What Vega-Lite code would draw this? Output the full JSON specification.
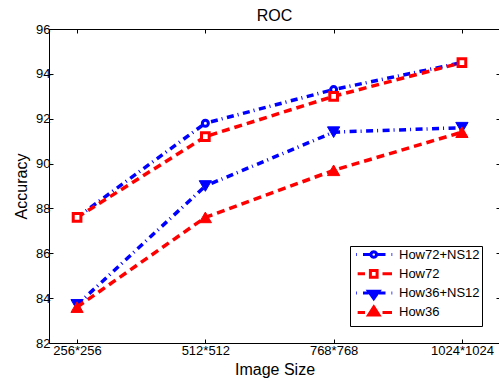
{
  "$schema": "https://vega.github.io/schema/vega-lite/v6.json",
  "autosize": "none",
  "padding": {"left": 49, "top": 29, "right": 0, "bottom": 38},
  "width": 451,
  "height": 314,
  "background": "white",
  "title": {"text": "ROC", "fontSize": 16, "font": "Liberation Sans", "fontWeight": "normal", "color": "black", "offset": 4, "dy": 5},
  "config": {
    "view": {"stroke": "black", "strokeWidth": 1},
    "axis": {"domainColor": "black", "tickColor": "black", "labelColor": "black", "titleColor": "black", "labelFont": "Liberation Sans", "titleFont": "Liberation Sans", "labelFontSize": 13, "titleFontSize": 16, "titleFontWeight": "normal", "grid": false, "tickSize": -4, "domainWidth": 1, "tickWidth": 1},
    "legend": {"orient": "none", "legendX": 301, "legendY": 217, "title": null, "padding": 2, "strokeColor": "black", "fillColor": "white", "symbolSize": 100, "symbolStrokeWidth": 3, "labelFontSize": 13, "labelFont": "Liberation Sans", "labelColor": "black", "labelOffset": 34, "rowPadding": -3.7, "symbolOpacity": 1}
  },
  "data": {"values": [
    {"series": "How72+NS12", "size": 256, "acc": 87.6},
    {"series": "How72+NS12", "size": 512, "acc": 91.8},
    {"series": "How72+NS12", "size": 768, "acc": 93.3},
    {"series": "How72+NS12", "size": 1024, "acc": 94.5},
    {"series": "How72", "size": 256, "acc": 87.6},
    {"series": "How72", "size": 512, "acc": 91.2},
    {"series": "How72", "size": 768, "acc": 93.0},
    {"series": "How72", "size": 1024, "acc": 94.5},
    {"series": "How36+NS12", "size": 256, "acc": 83.7},
    {"series": "How36+NS12", "size": 512, "acc": 89.0},
    {"series": "How36+NS12", "size": 768, "acc": 91.4},
    {"series": "How36+NS12", "size": 1024, "acc": 91.6},
    {"series": "How36", "size": 256, "acc": 83.6},
    {"series": "How36", "size": 512, "acc": 87.6},
    {"series": "How36", "size": 768, "acc": 89.7},
    {"series": "How36", "size": 1024, "acc": 91.4}
  ]},
  "resolve": {"axis": {"x": "independent", "y": "independent"}},
  "layer": [
    {
      "transform": [{"filter": {"field": "series", "equal": "How72+NS12"}}],
      "mark": {"type": "line", "strokeWidth": 3.5, "stroke": "#0000ff", "strokeDash": [7, 4, 1, 4.5], "opacity": 1},
      "encoding": {
        "x": {"field": "size", "type": "quantitative", "scale": {"domain": [200, 1100], "nice": false, "zero": false},
              "axis": {"orient": "bottom", "values": [256, 512, 768, 1024], "labelExpr": "datum.value + '*' + datum.value", "title": "Image Size", "labelPadding": 5, "titlePadding": 4}},
        "y": {"field": "acc", "type": "quantitative", "scale": {"domain": [82, 96], "nice": false, "zero": false},
              "axis": {"orient": "left", "values": [82, 84, 86, 88, 90, 92, 94, 96], "title": "Accuracy", "labelPadding": 3, "titlePadding": 6}}
      }
    },
    {
      "transform": [{"filter": {"field": "series", "equal": "How72+NS12"}}],
      "mark": {"type": "point", "shape": "circle", "size": 36, "fill": "white", "stroke": "#0000ff", "strokeWidth": 3, "opacity": 1},
      "encoding": {
        "x": {"field": "size", "type": "quantitative", "axis": {"orient": "top", "values": [256, 512, 768, 1024], "labels": false, "title": null}},
        "y": {"field": "acc", "type": "quantitative", "axis": {"orient": "right", "values": [82, 84, 86, 88, 90, 92, 94, 96], "labels": false, "title": null}}
      }
    },
    {
      "transform": [{"filter": {"field": "series", "equal": "How72"}}],
      "mark": {"type": "line", "strokeWidth": 3.5, "stroke": "#ff0000", "strokeDash": [8, 5], "opacity": 1},
      "encoding": {
        "x": {"field": "size", "type": "quantitative", "axis": null},
        "y": {"field": "acc", "type": "quantitative", "axis": null}
      }
    },
    {
      "transform": [{"filter": {"field": "series", "equal": "How72"}}],
      "mark": {"type": "point", "shape": "square", "size": 59, "fill": "white", "stroke": "#ff0000", "strokeWidth": 3, "opacity": 1},
      "encoding": {
        "x": {"field": "size", "type": "quantitative", "axis": null},
        "y": {"field": "acc", "type": "quantitative", "axis": null}
      }
    },
    {
      "transform": [{"filter": {"field": "series", "equal": "How36+NS12"}}],
      "mark": {"type": "line", "strokeWidth": 3.5, "stroke": "#0000ff", "strokeDash": [7, 4, 1, 4.5], "opacity": 1},
      "encoding": {
        "x": {"field": "size", "type": "quantitative", "axis": null},
        "y": {"field": "acc", "type": "quantitative", "axis": null}
      }
    },
    {
      "transform": [{"filter": {"field": "series", "equal": "How36+NS12"}}],
      "mark": {"type": "point", "shape": "triangle-down", "size": 150, "fill": "#0000ff", "stroke": "#0000ff", "strokeWidth": 1, "opacity": 1},
      "encoding": {
        "x": {"field": "size", "type": "quantitative", "axis": null},
        "y": {"field": "acc", "type": "quantitative", "axis": null}
      }
    },
    {
      "transform": [{"filter": {"field": "series", "equal": "How36"}}],
      "mark": {"type": "line", "strokeWidth": 3.5, "stroke": "#ff0000", "strokeDash": [8, 5], "opacity": 1},
      "encoding": {
        "x": {"field": "size", "type": "quantitative", "axis": null},
        "y": {"field": "acc", "type": "quantitative", "axis": null}
      }
    },
    {
      "transform": [{"filter": {"field": "series", "equal": "How36"}}],
      "mark": {"type": "point", "shape": "triangle-up", "size": 150, "fill": "#ff0000", "stroke": "#ff0000", "strokeWidth": 1, "opacity": 1},
      "encoding": {
        "x": {"field": "size", "type": "quantitative", "axis": null},
        "y": {"field": "acc", "type": "quantitative", "axis": null}
      }
    },
    {
      "transform": [{"filter": {"field": "series", "equal": "none"}}],
      "mark": {"type": "point", "strokeWidth": 3, "opacity": 1, "size": 100},
      "encoding": {
        "shape": {"field": "series", "type": "nominal",
                  "scale": {"domain": ["How72+NS12", "How72", "How36+NS12", "How36"],
                            "range": [
                              "M3.05,-1.1M3.05,1.1M-0.5,0H-0.35M0.9,0H2.49M3.61,0H5.4M6.6,0H6.75M3.61,0L3.535,0.28L3.33,0.485L3.05,0.56L2.77,0.485L2.565,0.28L2.49,0L2.565,-0.28L2.77,-0.485L3.05,-0.56L3.33,-0.485L3.535,-0.28Z",
                              "M3.05,-1.1M3.05,1.1M-0.17,0H1.3M4.8,0H6.7M2.38,-0.67H3.72V0.67H2.38Z",
                              "M3.05,-1.1M3.05,1.1M-0.5,0H-0.35M0.9,0H2.01M4.09,0H5.4M6.6,0H6.75M2.01,-0.36H4.09L3.05,1.1Z",
                              "M3.05,-1.1M3.05,1.1M-0.17,0H1.3M4.8,0H6.7M3.05,-1.1L4.09,0.5H2.01Z"
                            ]}},
        "stroke": {"field": "series", "type": "nominal",
                   "scale": {"domain": ["How72+NS12", "How72", "How36+NS12", "How36"], "range": ["#0000ff", "#ff0000", "#0000ff", "#ff0000"]}},
        "fill": {"field": "series", "type": "nominal",
                 "scale": {"domain": ["How72+NS12", "How72", "How36+NS12", "How36"], "range": ["#ffffff", "#ffffff", "#0000ff", "#ff0000"]}}
      }
    }
  ]
}
